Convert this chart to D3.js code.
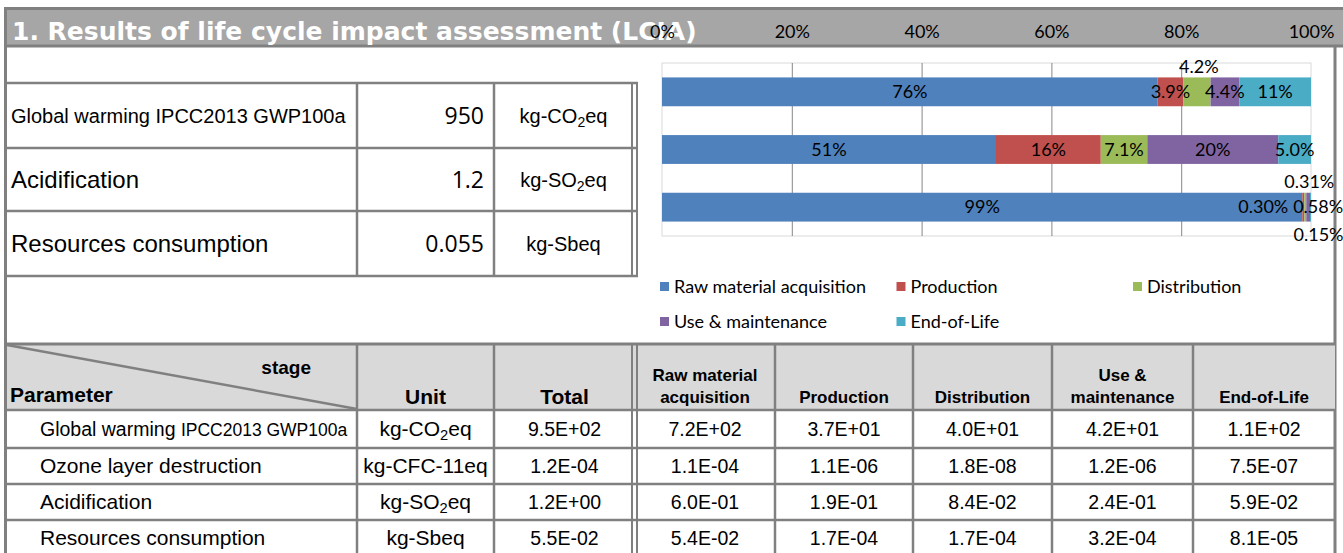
<!DOCTYPE html>
<html>
<head>
<meta charset="utf-8">
<script src="https://cdn.jsdelivr.net/npm/d3@7"></script>
<style>
body { margin: 0; background: #fff; }
svg { display: block; }
</style>
</head>
<body>
<script>
// stages and colours
var stages = ["Raw material acquisition", "Production", "Distribution", "Use & maintenance", "End-of-Life"];
var stageColors = ["#4f81bd", "#c0504d", "#9bbb59", "#8064a2", "#4bacc6"];
var stageHeads = [["Raw material", "acquisition"], ["Production"], ["Distribution"], ["Use &", "maintenance"], ["End-of-Life"]];

// stacked bar shares (%)
var chartRows = ["Global warming", "Acidification", "Resources consumption"];
var gwShare = [76, 3.9, 4.2, 4.4, 11];
var acShare = [51, 16, 7.1, 20, 5.0];
var rcShare = [99, 0.30, 0.31, 0.58, 0.15];
var axisTicks = [0, 0.2, 0.4, 0.6, 0.8, 1];

// summary table
var summaryNames = ["Global warming IPCC2013 GWP100a", "Acidification", "Resources consumption"];
var summaryTotals = [950, 1.2, 0.055];
var summaryUnits = ["kg-CO_2eq", "kg-SO_2eq", "kg-Sbeq"];

// detail table
var params = ["Global warming IPCC2013 GWP100a", "Ozone layer destruction", "Acidification", "Resources consumption"];
var paramUnits = ["kg-CO_2eq", "kg-CFC-11eq", "kg-SO_2eq", "kg-Sbeq"];
var totals = [9.5e2, 1.2e-4, 1.2e0, 5.5e-2];
var rawMaterial = [7.2e2, 1.1e-4, 6.0e-1, 5.4e-2];
var production = [3.7e1, 1.1e-6, 1.9e-1, 1.7e-4];
var distribution = [4.0e1, 1.8e-8, 8.4e-2, 1.7e-4];
var useMaint = [4.2e1, 1.2e-6, 2.4e-1, 3.2e-4];
var endOfLife = [1.1e2, 7.5e-7, 5.9e-2, 8.1e-5];

var width = 1343, height = 553;
var lineCol = "#808080";
var arial = "'Liberation Sans', Arial, sans-serif";
var calib = "Lato, 'Open Sans', sans-serif";

var svg = d3.select("body").append("svg")
    .attr("width", width)
    .attr("height", height);

function hline(x1, x2, y, w) {
    svg.append("line").attr("x1", x1).attr("x2", x2).attr("y1", y).attr("y2", y)
        .attr("stroke", lineCol).attr("stroke-width", w || 2.5);
}
function vline(x, y1, y2, w) {
    svg.append("line").attr("x1", x).attr("x2", x).attr("y1", y1).attr("y2", y2)
        .attr("stroke", lineCol).attr("stroke-width", w || 2.5);
}
// text with "_2" style subscripts
function unitText(sel, str, size) {
    var parts = str.split(/_(\d)/);
    parts.forEach(function (p, i) {
        if (!p) return;
        var t = sel.append("tspan").text(p);
        if (i % 2 == 1) {
            t.attr("font-size", size * 0.7).attr("dy", 4);
        } else if (i > 0) {
            t.attr("dy", -4);
        }
    });
}
function sci(v) {
    return v.toExponential(1).toUpperCase().replace(/E([+-])(\d)$/, "E$10$2");
}
var fmtShare = d3.format(".2r");

// ---- frame and title bar
svg.append("rect").attr("x", 7).attr("y", 10).attr("width", width - 7).attr("height", 35)
    .attr("fill", "#a6a6a6");
hline(4, width, 8.5, 3);
hline(4, width, 46, 3);
vline(5.5, 7, height, 3);
vline(1335, 46, height, 3);

svg.append("text")
    .attr("x", 12).attr("y", 40)
    .attr("fill", "#fff")
    .attr("font-family", "'DejaVu Sans', Verdana, sans-serif")
    .attr("font-weight", "bold")
    .attr("font-size", 25)
    .text("1. Results of life cycle impact assessment (LCIA)");

// ---- stacked 100% bar chart
var x = d3.scaleLinear().domain([0, 1]).range([662, 1311]);
var y = d3.scaleBand().domain(chartRows).range([63, 236]).paddingInner(0.5).paddingOuter(0.25);

var shareRows = [gwShare, acShare, rcShare];
var table = chartRows.map(function (r, i) {
    var o = { row: r };
    stages.forEach(function (s, j) { o[s] = shareRows[i][j]; });
    return o;
});
var series = d3.stack().keys(stages).offset(d3.stackOffsetExpand)(table);

var chart = svg.append("g");

chart.append("rect")
    .attr("x", x(0)).attr("y", 63)
    .attr("width", x(1) - x(0)).attr("height", 236 - 63)
    .attr("fill", "#fff").attr("stroke", "#d9d9d9");

// gridlines
var grid = chart.append("g")
    .attr("transform", "translate(0,236)")
    .call(d3.axisBottom(x).tickValues([0.2, 0.4, 0.6, 0.8]).tickSize(-(236 - 63)).tickFormat(""));
grid.select(".domain").remove();
grid.selectAll("line").attr("stroke", "#878787");

chart.selectAll("g.layer")
    .data(series)
    .enter().append("g")
    .attr("class", "layer")
    .attr("fill", function (d, i) { return stageColors[i]; })
    .selectAll("rect")
    .data(function (d) { return d; })
    .enter().append("rect")
    .attr("x", function (d) { return x(d[0]); })
    .attr("y", function (d) { return y(d.data.row); })
    .attr("width", function (d) { return x(d[1]) - x(d[0]); })
    .attr("height", y.bandwidth());

// labels that Excel had moved off the segment
var labelNudge = {
    "Global warming|Distribution": [2, -25],
    "Resources consumption|Production": [-40, 0],
    "Resources consumption|Distribution": [4, -25],
    "Resources consumption|Use & maintenance": [10, 0],
    "Resources consumption|End-of-Life": [8, 28]
};

series.forEach(function (s) {
    chart.append("g").selectAll("text")
        .data(s)
        .enter().append("text")
        .attr("x", function (d) {
            var n = labelNudge[d.data.row + "|" + s.key];
            return (x(d[0]) + x(d[1])) / 2 + (n ? n[0] : 0);
        })
        .attr("y", function (d) {
            var n = labelNudge[d.data.row + "|" + s.key];
            return y(d.data.row) + y.bandwidth() / 2 + (n ? n[1] : 0);
        })
        .attr("dy", "0.35em")
        .attr("text-anchor", "middle")
        .attr("font-family", calib)
        .attr("font-size", 18)
        .attr("fill", "#000")
        .text(function (d) { return fmtShare(d.data[s.key]) + "%"; });
});

var xAxis = chart.append("g")
    .attr("transform", "translate(0,41)")
    .call(d3.axisTop(x).tickValues(axisTicks).tickFormat(d3.format(".0%")).tickSize(0).tickPadding(3));
xAxis.select(".domain").remove();
xAxis.selectAll("text")
    .attr("font-family", calib)
    .attr("font-size", 18)
    .attr("fill", "#000");

// legend
var legend = chart.selectAll("g.legend")
    .data(stages)
    .enter().append("g")
    .attr("class", "legend")
    .attr("transform", function (d, i) {
        return "translate(" + (660 + (i % 3) * 236.5) + "," + (287 + Math.floor(i / 3) * 35) + ")";
    });
legend.append("rect")
    .attr("x", 0).attr("y", -5).attr("width", 9).attr("height", 9)
    .attr("fill", function (d, i) { return stageColors[i]; });
legend.append("text")
    .attr("x", 14).attr("dy", "0.35em")
    .attr("font-family", calib)
    .attr("font-size", 18)
    .text(function (d) { return d; });

// ---- summary table (top left)
var sumRows = [83, 148, 211, 276];
var sumCols = [7, 357, 494, 633];
summaryNames.forEach(function (name, i) {
    var cy = (sumRows[i] + sumRows[i + 1]) / 2;
    svg.append("text")
        .attr("x", 11).attr("y", cy).attr("dy", "0.35em")
        .attr("font-family", arial)
        .attr("font-size", i == 0 ? 20 : 24)
        .text(name);
    svg.append("text")
        .attr("x", 484).attr("y", cy).attr("dy", "0.35em")
        .attr("text-anchor", "end")
        .attr("font-family", "'Open Sans', sans-serif")
        .attr("font-size", 23)
        .text(d3.format(".2r")(summaryTotals[i]));
    unitText(svg.append("text")
        .attr("x", (sumCols[2] + sumCols[3]) / 2).attr("y", cy).attr("dy", "0.35em")
        .attr("text-anchor", "middle")
        .attr("font-family", arial)
        .attr("font-size", 20), summaryUnits[i], 20);
});
sumRows.forEach(function (r) { hline(7, 638, r); });
vline(357, 83, 276);
vline(494, 83, 276);
vline(632, 83, 276, 2);
vline(637, 83, 276, 2);

// ---- detail table (bottom)
var cols = [7, 357, 494, 635, 775, 913, 1052, 1193, 1335];
var rows = [344, 410, 448, 484, 520, 556];

svg.append("rect").attr("x", 7).attr("y", rows[0]).attr("width", 1335 - 7).attr("height", rows[1] - rows[0])
    .attr("fill", "#d9d9d9");
svg.append("line").attr("x1", 7).attr("y1", rows[0] + 1).attr("x2", cols[1]).attr("y2", rows[1] - 1)
    .attr("stroke", lineCol).attr("stroke-width", 2.5);

svg.append("text").attr("x", 311).attr("y", 374).attr("text-anchor", "end")
    .attr("font-family", arial).attr("font-weight", "bold").attr("font-size", 19).text("stage");
svg.append("text").attr("x", 10).attr("y", 402)
    .attr("font-family", arial).attr("font-weight", "bold").attr("font-size", 21).text("Parameter");
svg.append("text").attr("x", (cols[1] + cols[2]) / 2).attr("y", 404).attr("text-anchor", "middle")
    .attr("font-family", arial).attr("font-weight", "bold").attr("font-size", 21).text("Unit");
svg.append("text").attr("x", (cols[2] + cols[3]) / 2).attr("y", 404).attr("text-anchor", "middle")
    .attr("font-family", arial).attr("font-weight", "bold").attr("font-size", 21).text("Total");

stageHeads.forEach(function (lines, j) {
    var cx = (cols[3 + j] + cols[4 + j]) / 2;
    lines.forEach(function (ln, k) {
        svg.append("text")
            .attr("x", cx).attr("y", 403 - (lines.length - 1 - k) * 22)
            .attr("text-anchor", "middle")
            .attr("font-family", arial).attr("font-weight", "bold").attr("font-size", 17)
            .text(ln);
    });
});

var stageValues = [rawMaterial, production, distribution, useMaint, endOfLife];
params.forEach(function (p, i) {
    var cy = (rows[i + 1] + rows[i + 2]) / 2;
    var t = svg.append("text").attr("x", 40).attr("y", cy).attr("dy", "0.35em")
        .attr("font-family", arial).attr("font-size", 21);
    if (p.indexOf("IPCC") > 0) {
        t.append("tspan").attr("font-size", 19.5).text(p.slice(0, p.indexOf("IPCC")));
        t.append("tspan").attr("font-size", 17.5).text(p.slice(p.indexOf("IPCC")));
    } else {
        t.text(p);
    }
    unitText(svg.append("text").attr("x", (cols[1] + cols[2]) / 2).attr("y", cy).attr("dy", "0.35em")
        .attr("text-anchor", "middle").attr("font-family", arial).attr("font-size", 21), paramUnits[i], 21);
    svg.append("text").attr("x", (cols[2] + cols[3]) / 2).attr("y", cy).attr("dy", "0.35em")
        .attr("text-anchor", "middle").attr("font-family", arial).attr("font-size", 19.5).text(sci(totals[i]));
    stageValues.forEach(function (vals, j) {
        svg.append("text").attr("x", (cols[3 + j] + cols[4 + j]) / 2).attr("y", cy).attr("dy", "0.35em")
            .attr("text-anchor", "middle").attr("font-family", arial).attr("font-size", 19.5).text(sci(vals[i]));
    });
});

hline(7, 1335, rows[0], 3);
rows.slice(1).forEach(function (r) { hline(7, 1335, r); });
[357, 494, 775, 913, 1052, 1193].forEach(function (c) { vline(c, rows[0], height); });
vline(632, rows[0], height, 2);
vline(637, rows[0], height, 2);
</script>
</body>
</html>
